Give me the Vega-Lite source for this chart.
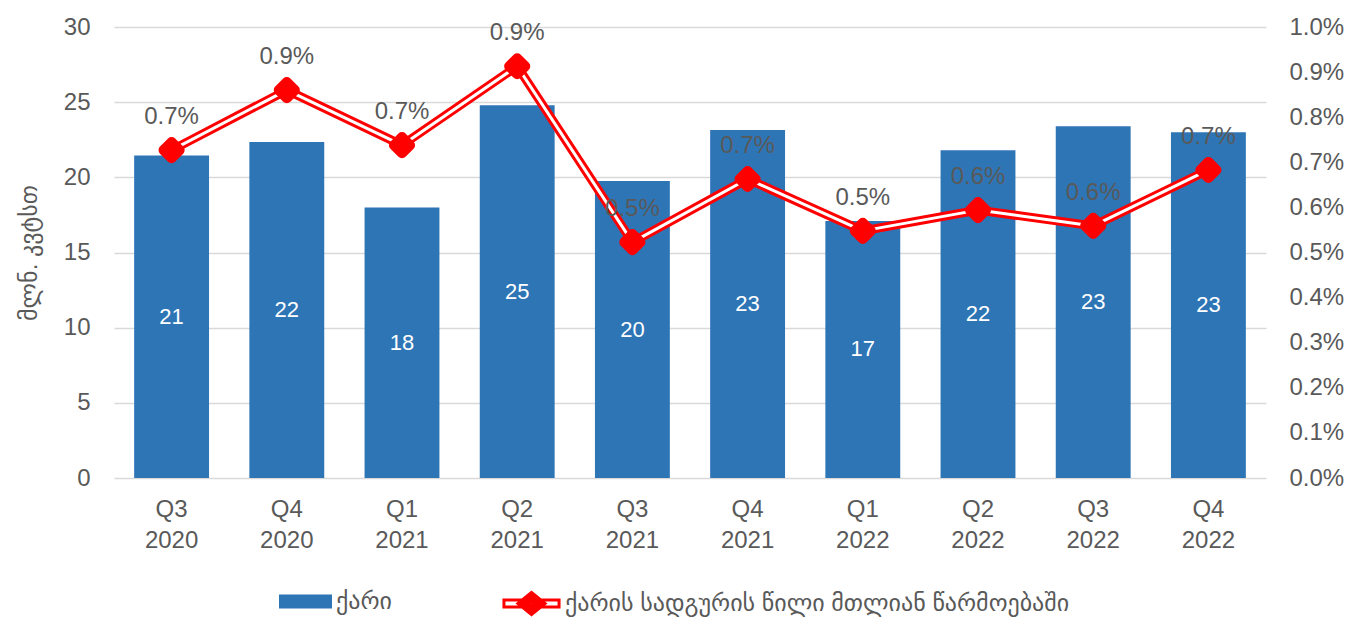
{
  "$schema": "https://vega.github.io/schema/vega-lite/v6.json",
  "width": 1152,
  "height": 451,
  "autosize": {"type": "none"},
  "padding": {"left": 114, "top": 27, "right": 101, "bottom": 145},
  "background": "white",
  "data": {
    "values": [
      {"q": "Q3 2020", "wind": 21.45, "share": 0.00727},
      {"q": "Q4 2020", "wind": 22.35, "share": 0.0086},
      {"q": "Q1 2021", "wind": 18.0, "share": 0.00738},
      {"q": "Q2 2021", "wind": 24.8, "share": 0.00913},
      {"q": "Q3 2021", "wind": 19.75, "share": 0.00523},
      {"q": "Q4 2021", "wind": 23.15, "share": 0.00663},
      {"q": "Q1 2022", "wind": 17.1, "share": 0.00548},
      {"q": "Q2 2022", "wind": 21.8, "share": 0.00594},
      {"q": "Q3 2022", "wind": 23.4, "share": 0.00559},
      {"q": "Q4 2022", "wind": 23.0, "share": 0.00683}
    ]
  },
  "encoding": {
    "x": {
      "field": "q",
      "type": "nominal",
      "sort": null,
      "scale": {"paddingInner": 0.35, "paddingOuter": 0.175},
      "axis": {
        "title": null,
        "labelAngle": 0,
        "labelExpr": "split(datum.label, ' ')",
        "labelLineHeight": 31,
        "labelFontSize": 24,
        "labelColor": "#595959",
        "labelPadding": 19,
        "ticks": false,
        "domain": false
      }
    }
  },
  "layer": [
    {
      "mark": {"type": "bar", "color": "#2E75B6"},
      "encoding": {
        "y": {
          "field": "wind",
          "type": "quantitative",
          "scale": {"domain": [0, 30], "nice": false},
          "axis": {
            "orient": "left",
            "values": [0, 5, 10, 15, 20, 25, 30],
            "title": "მლნ. კვტსთ",
            "titleFontSize": 24,
            "titleFontWeight": "normal",
            "titleColor": "#595959",
            "titlePadding": 22,
            "labelFontSize": 24,
            "labelColor": "#595959",
            "labelPadding": 24,
            "ticks": false,
            "domain": false,
            "grid": true,
            "gridColor": "#D9D9D9",
            "gridWidth": 1.5
          }
        },
        "fill": {
          "datum": "ქარი",
          "type": "nominal",
          "scale": {"range": ["#2E75B6"]},
          "legend": {
            "title": null,
            "orient": "none",
            "legendX": 165,
            "legendY": 548,
            "padding": 0,
            "symbolType": "M-1,-0.264H1V0.264H-1Z",
            "symbolSize": 2809,
            "symbolStrokeWidth": 0,
            "labelFontSize": 24,
            "labelColor": "#595959",
            "labelOffset": 4,
            "labelLimit": 0
          }
        }
      }
    },
    {
      "mark": {"type": "text", "color": "white", "fontSize": 22, "baseline": "middle"},
      "encoding": {
        "y": {
          "field": "wind",
          "type": "quantitative",
          "scale": {"domain": [0, 60], "nice": false},
          "axis": null
        },
        "text": {"field": "wind", "type": "quantitative", "format": ".0f"}
      }
    },
    {
      "encoding": {
        "y": {
          "field": "share",
          "type": "quantitative",
          "scale": {"domain": [0, 0.01], "nice": false},
          "axis": {
            "orient": "right",
            "values": [0, 0.001, 0.002, 0.003, 0.004, 0.005, 0.006, 0.007, 0.008, 0.009, 0.01],
            "format": ".1%",
            "title": null,
            "labelFontSize": 24,
            "labelColor": "#595959",
            "labelPadding": 23,
            "ticks": false,
            "domain": false,
            "grid": false
          }
        }
      },
      "layer": [
        {
          "mark": {"type": "line", "strokeWidth": 9, "strokeJoin": "round"},
          "encoding": {
            "stroke": {
              "datum": "ქარის სადგურის წილი მთლიან წარმოებაში",
              "type": "nominal",
              "scale": {"range": ["#FF0000"]},
              "legend": {
                "title": null,
                "orient": "none",
                "legendX": 387,
                "legendY": 546,
                "padding": 0,
                "symbolType": "M-0.95,-0.12H0.95V0.12H-0.95Z M0,-0.38L0.47,0L0,0.38L-0.47,0Z M0,-0.304L0.376,0L0,0.304L-0.376,0Z M0,-0.228L0.282,0L0,0.228L-0.282,0Z M0,-0.152L0.188,0L0,0.152L-0.188,0Z M0,-0.076L0.094,0L0,0.076L-0.094,0Z",
                "symbolSize": 3364,
                "symbolStrokeWidth": 3,
                "symbolFillColor": "white",
                "labelFontSize": 24,
                "labelColor": "#595959",
                "labelOffset": 3,
                "labelLimit": 0
              }
            }
          }
        },
        {
          "mark": {"type": "line", "stroke": "white", "strokeWidth": 3, "strokeJoin": "round"},
          "encoding": {}
        },
        {
          "mark": {"type": "point", "shape": "diamond", "filled": true, "fill": "#FF0000", "stroke": "#FF0000", "strokeWidth": 10, "strokeJoin": "round", "size": 260, "opacity": 1},
          "encoding": {}
        },
        {
          "mark": {"type": "text", "color": "#595959", "fontSize": 24, "dy": -33, "baseline": "middle"},
          "encoding": {
            "text": {"field": "share", "type": "quantitative", "format": ".1%"}
          }
        }
      ]
    }
  ],
  "resolve": {"scale": {"y": "independent"}},
  "config": {
    "view": {"stroke": null},
    "font": "Liberation Sans, DejaVu Sans, sans-serif"
  }
}
